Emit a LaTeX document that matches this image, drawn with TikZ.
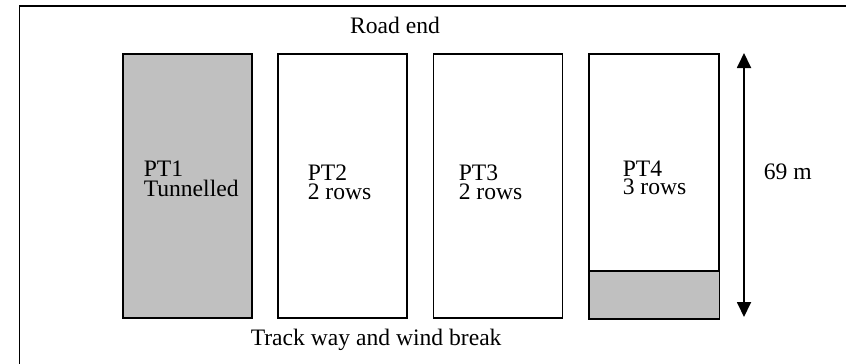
\documentclass[tikz,border=0pt]{standalone}
\usepackage{fontspec}
\setmainfont{Liberation Serif}
\usetikzlibrary{arrows.meta}
\definecolor{plotgray}{HTML}{C0C0C0}
\lineskiplimit=-20pt
\begin{document}
\begin{tikzpicture}[x=0.5pt,y=-0.5pt,
  line width=0.75pt,
  every node/.style={font=\fontsize{11.8}{10}\selectfont, inner sep=0pt},
  plotbox/.style={draw, line width=0.75pt, minimum width=64.5pt, minimum height=132pt, inner sep=0pt},
  plotlabel/.style={align=left, anchor=north west, font=\fontsize{11.8}{#1}\selectfont},
  plotlabel/.default=9.2,
  dim/.style={{Triangle[width=7pt,length=7.5pt]}-{Triangle[width=7pt,length=7.5pt]}, line width=0.9pt}
]
\useasboundingbox (0,0) rectangle (846,364);
% outer frame (right and bottom off the page)
\draw (850,6) -- (19.5,6) -- (19.5,370);
% plots
\node[plotbox, fill=plotgray] (pt1) at (187.5,186) {};
\node[plotbox] (pt2) at (342.5,186) {};
\node[plotbox] (pt3) at (498,186) {};
\node[plotbox] (pt4) at (654,186) {};
\fill[plotgray] (pt4.south west) rectangle ([yshift=24pt]pt4.south east);
\draw (pt4.south west) -- ([yshift=24pt]pt4.south west) -- ([yshift=24pt]pt4.south east);
\draw (pt4.north west) rectangle (pt4.south east);
% labels
\node[plotlabel=10] (l1) at (143,160) {PT1\\Tunnelled};
\node[plotlabel] (l2) at (307,164.5) {PT2\\2 rows};
\node[plotlabel] (l3) at (458,164.5) {PT3\\2 rows};
\node[plotlabel] (l4) at (622,160) {PT4\\3 rows};
\node[anchor=base] (road) at (395,33) {Road end};
\node[anchor=base west] (track) at (250,345) {Track way and wind break};
\node[anchor=base west] (len) at (763,179) {69 m};
% dimension arrow
\coordinate (atop) at (744,53);
\coordinate (abot) at (744,317);
\draw[dim] (atop) -- (abot);
\end{tikzpicture}
\end{document}
